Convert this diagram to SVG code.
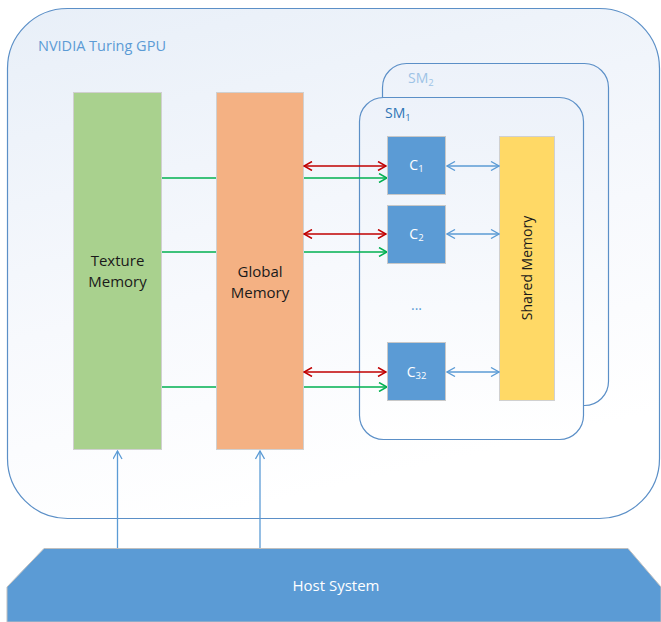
<svg xmlns="http://www.w3.org/2000/svg" width="661" height="622" viewBox="0 0 661 622">
<defs>
<linearGradient id="gpuGrad" x1="0" y1="0" x2="0.3" y2="1">
<stop offset="0" stop-color="#e8eff8"/>
<stop offset="0.6" stop-color="#f7f9fd"/>
<stop offset="1" stop-color="#ffffff"/>
</linearGradient>
<linearGradient id="smGrad" x1="0" y1="0" x2="0" y2="1">
<stop offset="0" stop-color="#edf2fa"/>
<stop offset="1" stop-color="#ffffff"/>
</linearGradient>
<marker id="aRed" viewBox="0 0 10 10" refX="9" refY="5" markerWidth="10" markerHeight="10" markerUnits="userSpaceOnUse" orient="auto-start-reverse">
<path d="M1,0.5 L9,5 L1,9.5" fill="none" stroke="#c00000" stroke-width="1.5"/>
</marker>
<marker id="aGreen" viewBox="0 0 10 10" refX="9" refY="5" markerWidth="10" markerHeight="10" markerUnits="userSpaceOnUse" orient="auto-start-reverse">
<path d="M1,0.5 L9,5 L1,9.5" fill="none" stroke="#00b050" stroke-width="1.5"/>
</marker>
<marker id="aBlue" viewBox="0 0 10 10" refX="9" refY="5" markerWidth="10" markerHeight="10" markerUnits="userSpaceOnUse" orient="auto-start-reverse">
<path d="M1,0.5 L9,5 L1,9.5" fill="none" stroke="#5b9bd5" stroke-width="1.3"/>
</marker>
</defs>
<style>
text { font-family: "Open Sans", "Liberation Sans", sans-serif; }
.mem { stroke: #d0d0d0; stroke-width: 1; }
.core { fill: #5b9bd5; stroke: #c8c8c8; stroke-width: 1; }
.coreTxt { fill: #ffffff; font-size: 14px; text-anchor: middle; }
.memTxt { fill: #1a1a1a; font-size: 15px; text-anchor: middle; }
.red { stroke: #c00000; stroke-width: 1.5; fill: none; marker-start: url(#aRed); marker-end: url(#aRed); }
.green { stroke: #00b050; stroke-width: 1.5; fill: none; marker-end: url(#aGreen); }
.blue2 { stroke: #5b9bd5; stroke-width: 1.3; fill: none; marker-start: url(#aBlue); marker-end: url(#aBlue); }
.blue1 { stroke: #5b9bd5; stroke-width: 1.3; fill: none; marker-end: url(#aBlue); }
</style>

<g id="gpu">
<rect x="7.5" y="8.5" width="652" height="510" rx="60" ry="60" fill="url(#gpuGrad)" stroke="#5b8fc7" stroke-width="1.2"/>
<text x="38" y="51" font-size="14.5" fill="#5b9bd5">NVIDIA Turing GPU</text>
</g>

<g id="sm2">
<rect x="382.5" y="63.5" width="226" height="342" rx="24" ry="24" fill="url(#smGrad)" stroke="#5b8fc7" stroke-width="1.2"/>
<text x="408" y="83" font-size="14" fill="#9dc3e6">SM<tspan font-size="9.5" dy="3">2</tspan></text>
</g>

<g id="sm1">
<rect x="359.5" y="97.5" width="224" height="342" rx="24" ry="24" fill="url(#smGrad)" stroke="#5b8fc7" stroke-width="1.2"/>
<text x="385" y="118" font-size="14" fill="#2e75b6">SM<tspan font-size="9.5" dy="3">1</tspan></text>
</g>

<g id="connectors-green">
<line class="green" x1="162" y1="178" x2="387" y2="178"/>
<line class="green" x1="162" y1="252" x2="387" y2="252"/>
<line class="green" x1="162" y1="387" x2="387" y2="387"/>
</g>

<g id="texture">
<rect class="mem" x="73.5" y="92.5" width="88" height="357" fill="#a9d18e"/>
<text class="memTxt" x="117.5" y="266">Texture</text>
<text class="memTxt" x="117.5" y="287">Memory</text>
</g>

<g id="global">
<rect class="mem" x="216.5" y="92.5" width="87" height="357" fill="#f4b183"/>
<text class="memTxt" x="260" y="277">Global</text>
<text class="memTxt" x="260" y="298">Memory</text>
</g>

<g id="c1">
<rect class="core" x="387.5" y="136.5" width="58" height="58"/>
<text class="coreTxt" x="416.5" y="170">C<tspan font-size="9.5" dy="2">1</tspan></text>
</g>
<g id="c2">
<rect class="core" x="387.5" y="205.5" width="58" height="58"/>
<text class="coreTxt" x="416.5" y="239">C<tspan font-size="9.5" dy="2">2</tspan></text>
</g>
<text x="416.5" y="310" font-size="14" fill="#5b9bd5" text-anchor="middle">...</text>
<g id="c32">
<rect class="core" x="387.5" y="342.5" width="58" height="58"/>
<text class="coreTxt" x="416.5" y="377">C<tspan font-size="9.5" dy="2">32</tspan></text>
</g>

<g id="shared">
<rect class="mem" x="499.5" y="136.5" width="55" height="264" fill="#ffd966"/>
<text class="memTxt" style="font-size:14px" transform="translate(532,268) rotate(-90)">Shared Memory</text>
</g>

<g id="host">
<polygon points="44,548.5 628,548.5 661,587 661,622 7,622 7,587" fill="#5b9bd5" stroke="#bfbfbf" stroke-width="1"/>
<text x="336" y="591" font-size="15" fill="#ffffff" text-anchor="middle">Host System</text>
</g>

<g id="connectors">
<line class="red" x1="304" y1="166" x2="386" y2="166"/>
<line class="red" x1="304" y1="234" x2="386" y2="234"/>
<line class="red" x1="304" y1="372" x2="386" y2="372"/>
<line class="blue2" x1="447" y1="166" x2="499" y2="166"/>
<line class="blue2" x1="447" y1="234" x2="499" y2="234"/>
<line class="blue2" x1="447" y1="372" x2="499" y2="372"/>
<line class="blue1" x1="117.5" y1="548" x2="117.5" y2="451"/>
<line class="blue1" x1="260" y1="548" x2="260" y2="451"/>
</g>
</svg>
